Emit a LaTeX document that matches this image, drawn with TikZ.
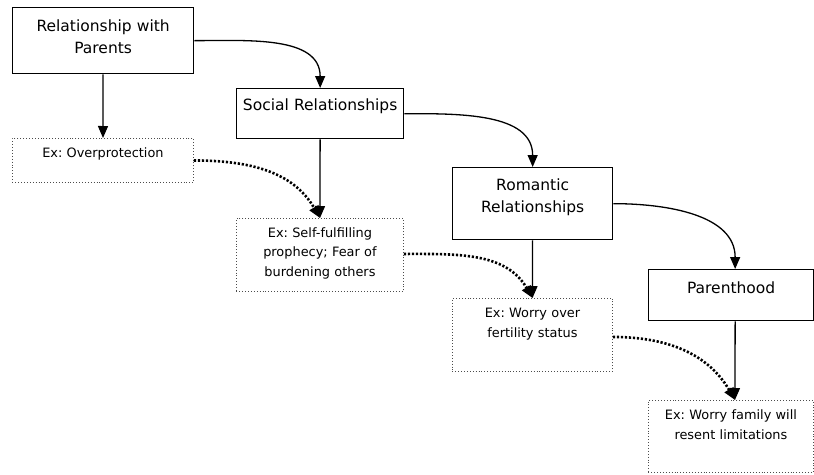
\documentclass[tikz,border=0pt]{standalone}
\usepackage{fontspec}
\setmainfont{DejaVu Sans}
\usetikzlibrary{arrows.meta}
\frenchspacing
\newcommand{\stagefont}{\fontsize{15.5}{22}\selectfont}
\newcommand{\exfont}{\fontsize{12.9}{19.5}\selectfont}

\begin{document}
\begin{tikzpicture}[x=1pt, y=-1pt,
    main/.style = {draw, line width=1.3pt, inner sep=0pt, align=center, anchor=north west, font=\stagefont},
    ex/.style = {draw=black!70, dotted, line width=0.9pt, inner sep=0pt, align=center, anchor=north west, font=\exfont},
    link/.style = {-{Triangle[length=12pt,width=10pt]}, line width=1.3pt},
    carry/.style = {-{Triangle[length=12pt,width=10pt]}, line width=2.6pt, dash pattern=on 2.2pt off 1.8pt}]
    \useasboundingbox (0,0) rectangle (814,474);

    % Nodes
    \node[main, text width=181pt, text height=24pt, text depth=42pt] (1) at (12,7) {Relationship with\\Parents};
    \node[main, text width=167pt, text height=22pt, text depth=28pt] (2) at (236,88) {Social Relationships};
    \node[main, text width=160pt, text height=23pt, text depth=49pt] (3) at (452,167) {Romantic\\Relationships};
    \node[main, text width=165pt, text height=24pt, text depth=27pt] (4) at (648,269) {Parenthood};

    \node[ex, text width=181pt, text height=19.5pt, text depth=24.5pt] (5) at (12,138) {Ex: Overprotection};
    \node[ex, text width=167pt, text height=18.6pt, text depth=54.4pt] (6) at (236,218) {Ex: Self-fulfilling\\prophecy; Fear of\\burdening others};
    \node[ex, text width=160pt, text height=19.5pt, text depth=53.5pt] (7) at (452,298) {Ex: Worry over\\fertility status};
    \node[ex, text width=165pt, text height=19.5pt, text depth=52.5pt] (8) at (648,400) {Ex: Worry family will\\resent limitations};

    % Lines
    \draw[link] (1) -- (5);
    \draw[link] (2) -- (6);
    \draw[link] (3) -- (7);
    \draw[link] ([xshift=4pt]4.south) -- ([xshift=4pt]8.north);

    \draw[link] (1.east) to[out=0, in=90] (2.north);
    \draw[link] (2.east) to[out=0, in=90] (3.north);
    \draw[link] (3.east) to[out=0, in=90] ([xshift=4pt]4.north);

    \draw[carry] (5.east) to[out=0, in=120] (6.north);
    \draw[carry] ([yshift=1pt]6.east) to[out=0, in=120] (7.north);
    \draw[carry] ([yshift=-2pt]7.east) to[out=0, in=120] ([xshift=4pt]8.north);
\end{tikzpicture}
\end{document}
